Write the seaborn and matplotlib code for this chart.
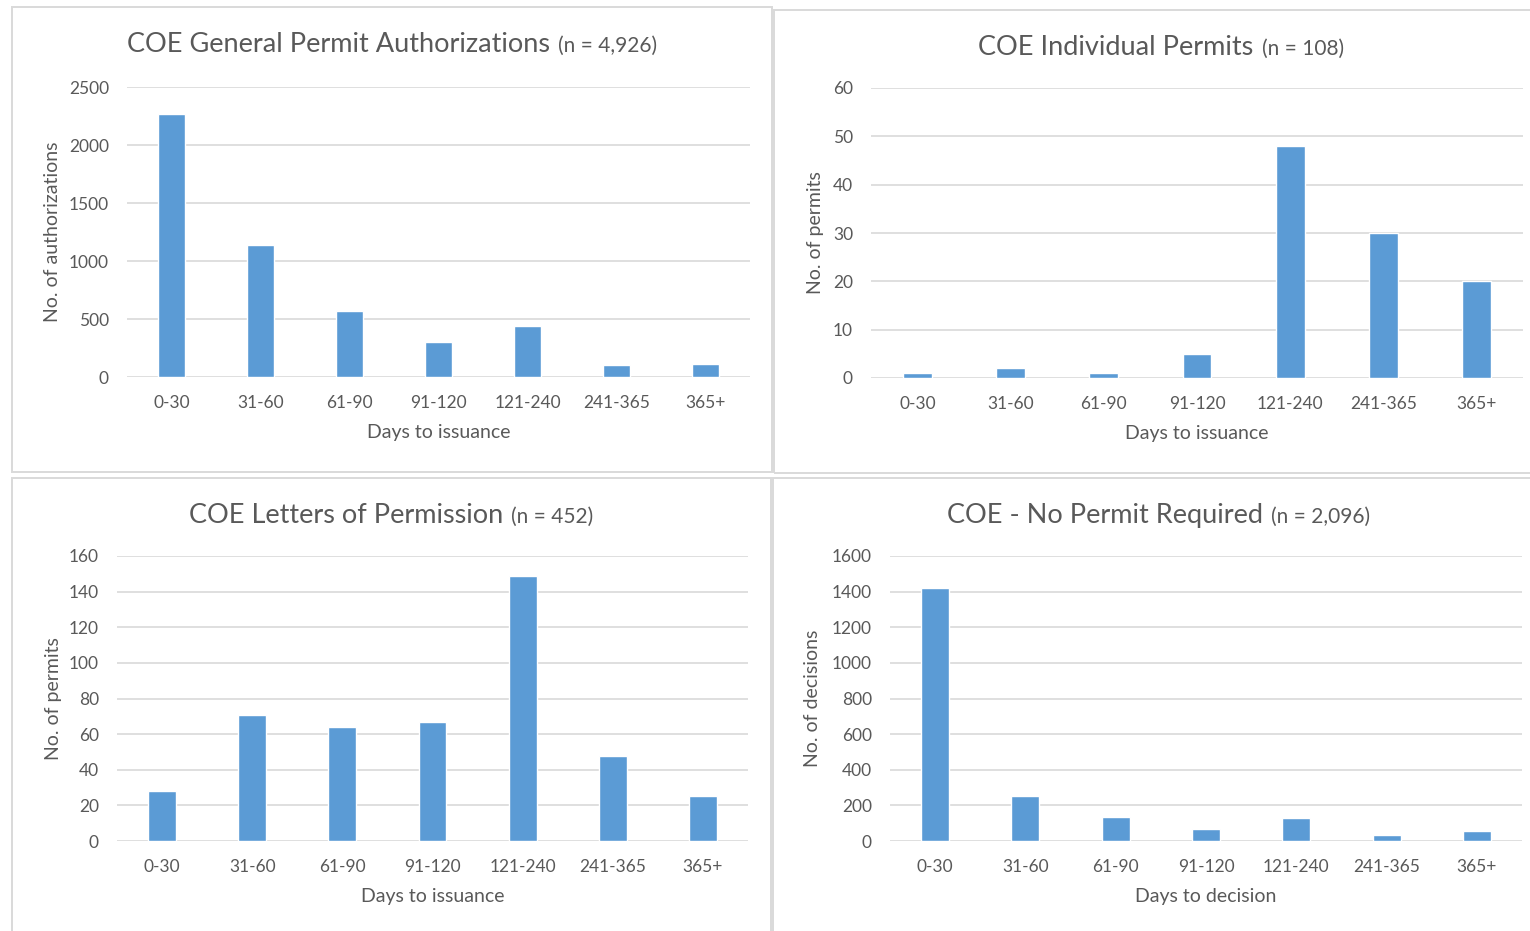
import matplotlib
matplotlib.use('Agg')
import matplotlib.pyplot as plt
import seaborn as sns
from matplotlib.patches import Rectangle

# categories shared by all four panels
bins = ['0-30', '31-60', '61-90', '91-120', '121-240', '241-365', '365+']

general_permits = [2270, 1135, 566, 305, 440, 101, 109]
individual_permits = [1, 2, 1, 5, 48, 30, 20]
letters_permission = [28, 71, 64, 67, 149, 48, 25]
no_permit = [1423, 253, 135, 66, 129, 36, 54]

titles = ['COE General Permit Authorizations', 'COE Individual Permits',
          'COE Letters of Permission', 'COE - No Permit Required']
n_labels = ['(n = 4,926)', '(n = 108)', '(n = 452)', '(n = 2,096)']
ylabels = ['No. of authorizations', 'No. of permits', 'No. of permits', 'No. of decisions']
xlabels = ['Days to issuance', 'Days to issuance', 'Days to issuance', 'Days to decision']
ymax = [2500, 60, 160, 1600]
ystep = [500, 10, 20, 200]

BAR = '#5B9BD5'
GRID = '#D9D9D9'
TXT = '#595959'

sns.set_style('white')
plt.rcParams['font.family'] = ['Lato', 'DejaVu Sans']

W, H = 1530, 931
fig = plt.figure(figsize=(W / 100, H / 100), dpi=100)

# panel frames (pixels: x0, y0, x1, y1)
frames = [(12, 7, 772, 472), (774, 10, 1532, 473), (12, 478, 771, 933), (773, 478, 1532, 933)]
for x0, y0, x1, y1 in frames:
    fig.patches.append(Rectangle((x0 / W, 1 - y1 / H), (x1 - x0) / W, (y1 - y0) / H,
                                 transform=fig.transFigure, fill=False,
                                 edgecolor=GRID, linewidth=1.4))

# plot areas (pixels: left, top, right, bottom)
areas = [(127, 87, 750, 377), (871, 88, 1523, 378), (117, 556, 748, 841), (890, 556, 1522, 841)]
ylab_x = [53, 815, 53, 813]
title_pos = [(392, 52), (1161, 55), (391, 523), (1159, 523)]

data = [general_permits, individual_permits, letters_permission, no_permit]

title_pairs = []
for i in range(4):
    l, t, r, b = areas[i]
    ax = fig.add_axes([l / W, 1 - b / H, (r - l) / W, (b - t) / H])
    sns.barplot(x=bins, y=data[i], ax=ax, color=BAR, saturation=1, width=0.31)
    ax.set_ylim(0, ymax[i])
    ax.set_yticks(range(0, ymax[i] + 1, ystep[i]))
    ax.set_xlim(-0.5, 6.5)
    ax.yaxis.grid(True, color=GRID, linewidth=1.2)
    ax.set_axisbelow(True)
    for s in ['top', 'right', 'left', 'bottom']:
        ax.spines[s].set_visible(False)
    ax.tick_params(axis='both', length=0, labelsize=12.5, labelcolor=TXT)
    ax.tick_params(axis='y', pad=13)
    ax.tick_params(axis='x', pad=13)
    ax.set_xlabel(xlabels[i], fontsize=14, color=TXT, labelpad=9)
    ax.set_ylabel('')
    cy = 1 - (t + b) / 2 / H
    fig.text(ylab_x[i] / W, cy, ylabels[i], rotation=90, ha='center', va='center',
             fontsize=14, color=TXT)

    tx, ty = title_pos[i]
    t1 = fig.text(0, 1 - ty / H, titles[i], fontsize=19.5, color=TXT, va='baseline')
    t2 = fig.text(0, 1 - ty / H, n_labels[i], fontsize=15, color=TXT, va='baseline')
    title_pairs.append((tx, t1, t2))

# centre each two-size title over its panel
fig.canvas.draw()
rend = fig.canvas.get_renderer()
gap = 8
for tx, t1, t2 in title_pairs:
    w1 = t1.get_window_extent(rend).width
    w2 = t2.get_window_extent(rend).width
    start = tx - (w1 + gap + w2) / 2
    t1.set_x(start / W)
    t2.set_x((start + w1 + gap) / W)

fig.savefig('out.png', dpi=100, facecolor='white')
